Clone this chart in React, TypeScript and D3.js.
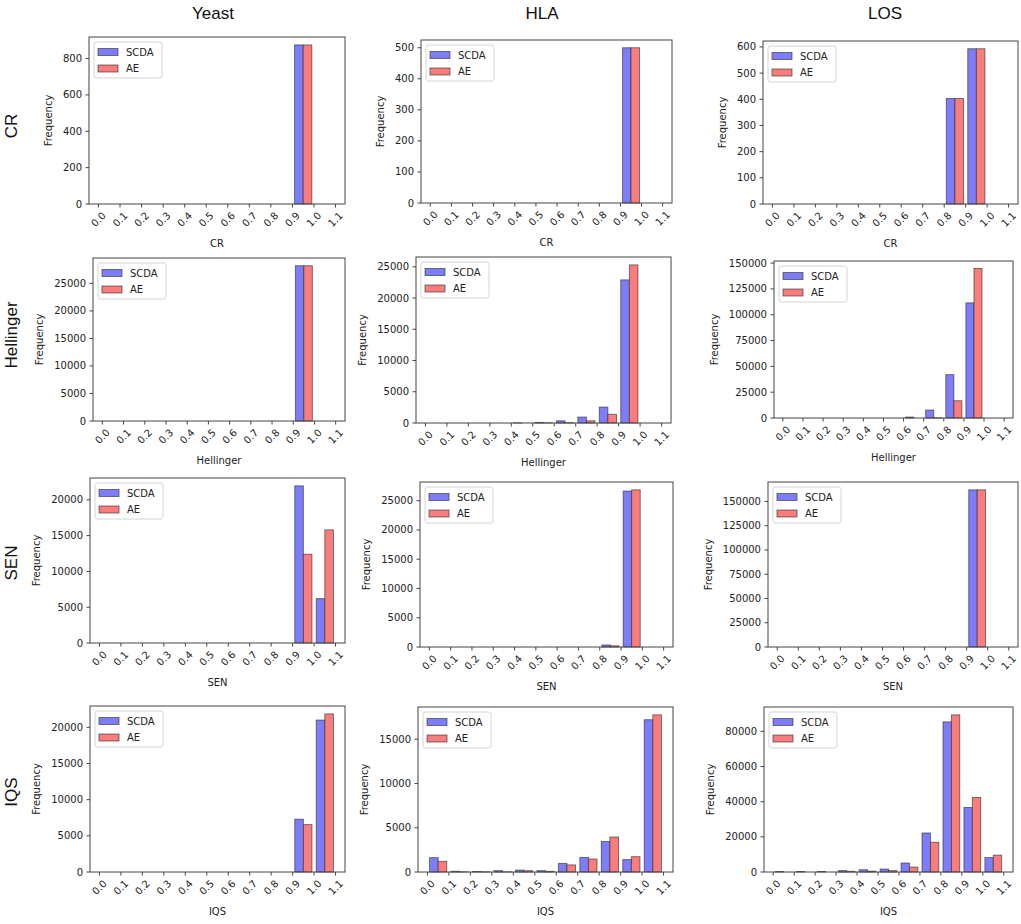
import React from "react";
import * as d3 from "d3";

// column / row headings
const datasets = ["Yeast", "HLA", "LOS"];
const metrics = ["CR", "Hellinger", "SEN", "IQS"];
const seriesNames = ["SCDA", "AE"];

// histogram bins: 0.0, 0.1, ... 1.1 (11 bins)
const binEdges = d3.range(0, 12).map((i) => i / 10);
const xTickLabels = binEdges.map((b) => b.toFixed(1));

// counts per bin
const yeastCrScda = [0, 0, 0, 0, 0, 0, 0, 0, 0, 875, 0];
const yeastCrAe = [0, 0, 0, 0, 0, 0, 0, 0, 0, 875, 0];
const hlaCrScda = [0, 0, 0, 0, 0, 0, 0, 0, 0, 500, 0];
const hlaCrAe = [0, 0, 0, 0, 0, 0, 0, 0, 0, 500, 0];
const losCrScda = [0, 0, 0, 0, 0, 0, 0, 0, 403, 593, 0];
const losCrAe = [0, 0, 0, 0, 0, 0, 0, 0, 403, 593, 0];

const yeastHellScda = [0, 0, 0, 0, 0, 0, 0, 0, 0, 28200, 0];
const yeastHellAe = [0, 0, 0, 0, 0, 0, 0, 0, 0, 28200, 0];
const hlaHellScda = [0, 0, 0, 0, 20, 100, 350, 950, 2550, 22900, 0];
const hlaHellAe = [0, 0, 0, 0, 0, 20, 50, 350, 1400, 25300, 0];
const losHellScda = [0, 0, 0, 0, 0, 0, 900, 7700, 42000, 111500, 0];
const losHellAe = [0, 0, 0, 0, 0, 0, 0, 200, 16700, 144800, 0];

const yeastSenScda = [0, 0, 0, 0, 0, 0, 0, 0, 0, 21950, 6200];
const yeastSenAe = [0, 0, 0, 0, 0, 0, 0, 0, 0, 12400, 15800];
const hlaSenScda = [0, 0, 0, 0, 0, 0, 0, 0, 350, 26650, 0];
const hlaSenAe = [0, 0, 0, 0, 0, 0, 0, 0, 200, 26850, 0];
const losSenScda = [0, 0, 0, 0, 0, 0, 0, 0, 0, 162000, 0];
const losSenAe = [0, 0, 0, 0, 0, 0, 0, 0, 0, 162000, 0];

const yeastIqsScda = [0, 0, 0, 0, 0, 0, 0, 0, 0, 7300, 21000];
const yeastIqsAe = [0, 0, 0, 0, 0, 0, 0, 0, 0, 6550, 21850];
const hlaIqsScda = [1620, 80, 60, 150, 220, 150, 970, 1650, 3450, 1400, 17200];
const hlaIqsAe = [1200, 20, 20, 20, 150, 80, 800, 1470, 3950, 1730, 17750];
const losIqsScda = [300, 300, 300, 800, 1300, 1700, 5100, 22200, 85400, 36700, 8200];
const losIqsAe = [0, 0, 0, 400, 500, 800, 2800, 16900, 89400, 42400, 9600];

const seriesGrid = [
  [[yeastCrScda, yeastCrAe], [hlaCrScda, hlaCrAe], [losCrScda, losCrAe]],
  [[yeastHellScda, yeastHellAe], [hlaHellScda, hlaHellAe], [losHellScda, losHellAe]],
  [[yeastSenScda, yeastSenAe], [hlaSenScda, hlaSenAe], [losSenScda, losSenAe]],
  [[yeastIqsScda, yeastIqsAe], [hlaIqsScda, hlaIqsAe], [losIqsScda, losIqsAe]],
];

// y tick spacing per panel (row x column)
const yTickSteps = [
  [200, 100, 100],
  [5000, 5000, 25000],
  [5000, 5000, 25000],
  [5000, 5000, 20000],
];

// layout (pixel boxes of each axes: [left, right, top, bottom])
const W = 1021;
const H = 924;
const boxes = [
  [[89, 345, 37, 204], [421, 672, 40, 203], [763, 1018, 41, 204]],
  [[93, 345, 258, 421], [416, 671, 257, 423], [774, 1013, 261, 418]],
  [[90, 345, 478, 643], [420, 673, 482, 647], [768, 1018, 482, 647]],
  [[90, 345, 706, 872], [418, 673, 707, 872], [764, 1013, 707, 872]],
];
const colTitleX = [213, 542, 885];
const rowLabelY = [126, 335, 563, 792];

const colors = ["rgb(125,125,250)", "rgb(250,125,125)"];
const tickFont = "DejaVu Sans, sans-serif";
const headFont = "Liberation Sans, Arial, sans-serif";

interface PanelProps {
  box: number[];
  series: number[][];
  step: number;
  xlabel: string;
}

const Panel: React.FC<PanelProps> = ({ box, series, step, xlabel }) => {
  const [left, right, top, bottom] = box;
  const binW = 0.1;
  const xMin = 0.01 - 0.054;
  const xMax = 1.09 + 0.054;
  const x = d3.scaleLinear().domain([xMin, xMax]).range([left, right]);
  const maxVal = d3.max(series.flat()) ?? 1;
  const y = d3.scaleLinear().domain([0, maxVal * 1.05]).range([bottom, top]);
  const yTicks = d3.range(0, maxVal * 1.05 + 1e-9, step);
  const maxLabelW = d3.max(yTicks, (t) => String(t).length * 6.36) ?? 0;
  const barW = 0.8 * binW / series.length;

  return (
    <g>
      {series.map((vals, si) =>
        vals.map((v, bi) => {
          if (v <= 0) return null;
          const x0 = binEdges[bi] + 0.1 * binW + si * barW;
          return (
            <rect
              key={`${si}-${bi}`}
              x={x(x0)}
              y={y(v)}
              width={x(x0 + barW) - x(x0)}
              height={y(0) - y(v)}
              fill={colors[si]}
              stroke="rgba(40,40,40,0.65)"
              strokeWidth={0.9}
            />
          );
        })
      )}
      <rect x={left} y={top} width={right - left} height={bottom - top} fill="none" stroke="#444" strokeWidth={1} />
      {binEdges.map((b, i) => (
        <g key={`xt${i}`}>
          <line x1={x(b)} x2={x(b)} y1={bottom} y2={bottom + 3.5} stroke="#444" />
          <text
            transform={`translate(${x(b)},${bottom + 15.5}) rotate(-45)`}
            textAnchor="middle"
            dominantBaseline="central"
            fontFamily={tickFont}
            fontSize={10}
            fill="#222"
          >
            {xTickLabels[i]}
          </text>
        </g>
      ))}
      {yTicks.map((t) => (
        <g key={`yt${t}`}>
          <line x1={left - 3.5} x2={left} y1={y(t)} y2={y(t)} stroke="#444" />
          <text
            x={left - 7}
            y={y(t)}
            textAnchor="end"
            dominantBaseline="central"
            fontFamily={tickFont}
            fontSize={10}
            fill="#222"
          >
            {t}
          </text>
        </g>
      ))}
      <text
        transform={`translate(${left - 7 - maxLabelW - 11},${(top + bottom) / 2}) rotate(-90)`}
        textAnchor="middle"
        fontFamily={tickFont}
        fontSize={10}
        fill="#222"
      >
        Frequency
      </text>
      <text
        x={(left + right) / 2}
        y={bottom + 39}
        textAnchor="middle"
        dominantBaseline="central"
        fontFamily={tickFont}
        fontSize={10}
        fill="#222"
      >
        {xlabel}
      </text>
      {/* legend */}
      <g transform={`translate(${left + 5},${top + 5})`}>
        <rect x={0} y={0} width={68} height={36} rx={2.5} fill="rgba(255,255,255,0.8)" stroke="#d4d4d4" />
        {seriesNames.map((name, i) => (
          <g key={name} transform={`translate(4,${10 + i * 16.5})`}>
            <rect x={0} y={-3.5} width={20} height={7} fill={colors[i]} stroke="rgba(40,40,40,0.65)" strokeWidth={0.9} />
            <text x={28} y={0} dominantBaseline="central" fontFamily={tickFont} fontSize={10} fill="#222">
              {name}
            </text>
          </g>
        ))}
      </g>
    </g>
  );
};

export default function App() {
  return (
    <svg
      width={W}
      height={H}
      viewBox={`0 0 ${W} ${H}`}
      style={{ position: "absolute", left: 0, top: 0, background: "#fff" }}
    >
      <rect width={W} height={H} fill="#fff" />
      {datasets.map((d, ci) => (
        <text key={d} x={colTitleX[ci]} y={19} textAnchor="middle" fontFamily={headFont} fontSize={17} fill="#111">
          {d}
        </text>
      ))}
      {metrics.map((m, ri) => (
        <text
          key={m}
          transform={`translate(17,${rowLabelY[ri]}) rotate(-90)`}
          textAnchor="middle"
          fontFamily={headFont}
          fontSize={17}
          fill="#111"
        >
          {m}
        </text>
      ))}
      {metrics.map((m, ri) =>
        datasets.map((d, ci) => (
          <Panel
            key={`${m}-${d}`}
            box={boxes[ri][ci]}
            series={seriesGrid[ri][ci]}
            step={yTickSteps[ri][ci]}
            xlabel={m}
          />
        ))
      )}
    </svg>
  );
}
